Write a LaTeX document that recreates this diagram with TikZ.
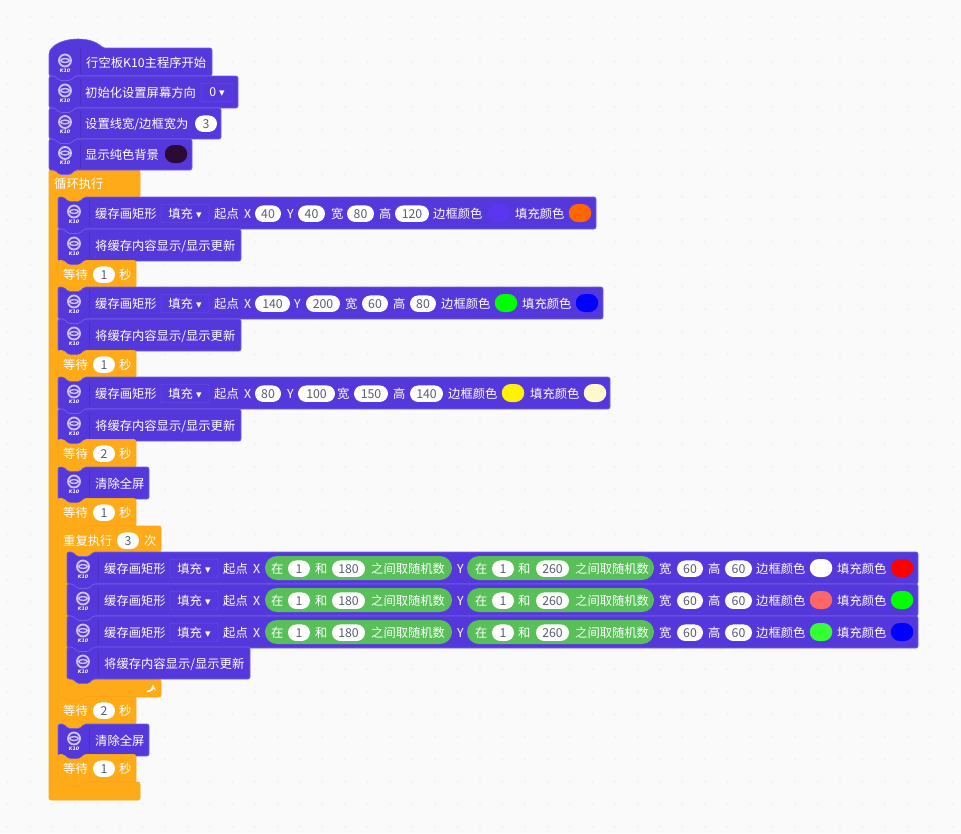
\documentclass[tikz,border=0pt]{standalone}
\usepackage{fontspec}
\setmainfont{Noto Sans CJK SC}
\newfontfamily\symfont{DejaVu Sans}
\definecolor{pagebg}{HTML}{FAFAFB}
\definecolor{griddot}{HTML}{F0F0F1}
\definecolor{kpurple}{HTML}{5538DC}
\definecolor{kedge}{HTML}{7460E2}
\definecolor{kring}{HTML}{CFC6F6}
\definecolor{ksep}{HTML}{4A2FC4}
\definecolor{korange}{HTML}{FFAB19}
\definecolor{kedgeo}{HTML}{F7A617}
\definecolor{kgreen}{HTML}{59C059}
\definecolor{pilltext}{HTML}{575E75}
\definecolor{bgdark}{HTML}{2B0A33}
\definecolor{borderviolet}{HTML}{5C35EE}
\definecolor{fillorange}{HTML}{FF6600}
\definecolor{paleyellow}{HTML}{FFF9CC}
\definecolor{salmon}{HTML}{FF6666}
\definecolor{limegreen}{HTML}{33FF33}
\tikzset{
  blocktext/.style={anchor=west,inner sep=0pt,yshift=-.8pt,text=white,text height=10.4pt,text depth=1.4pt,font=\fontsize{12.3}{14}\selectfont},
  pill/.style={fill=white,rounded corners=8.25pt,inner sep=0pt,yshift=-.7pt,minimum height=16.5pt,text=pilltext,font=\fontsize{12.3}{14}\selectfont},
  swatch/.style={rounded corners=9pt,inner sep=0pt,minimum height=18pt,minimum width=22.5pt},
  greenpill/.style={fill=kgreen,rounded corners=12pt,inner sep=0pt,minimum height=24pt},
  dropbox/.style={draw=kedge!70!kpurple,fill=kpurple,rounded corners=2pt,inner sep=0pt,yshift=-.5pt,minimum height=18.5pt,minimum width=48pt,text=white,font=\fontsize{12.3}{14}\selectfont},
  kblockstyle/.style={fill=kpurple,draw=kedge,line width=.6pt,rounded corners=2pt},
  oblockstyle/.style={fill=korange,draw=kedgeo,line width=.6pt,rounded corners=2pt},
  ktag/.style={inner sep=0pt,text=white,font=\symfont\fontsize{4.8}{5}\selectfont\bfseries\itshape},
}
% connector shape shared by all stack blocks
\newcommand{\stackpath}[4]{(#1,#2) -- (#1+6,#2) -- (#1+10,#2+4.5) -- (#1+22,#2+4.5) -- (#1+26,#2) -- (#1+#3,#2) -- (#1+#3,#2+#4) -- (#1+26,#2+#4) -- (#1+22,#2+#4+4.5) -- (#1+10,#2+#4+4.5) -- (#1+6,#2+#4) -- (#1,#2+#4) -- cycle}
% logo, tag and separator
\newcommand{\kicon}[2]{
  \draw[kring,line width=1.8pt] (#1+16,#2-1.5) circle (6pt);
  \draw[kring,line width=1.4pt] (#1+16,#2-1.5) ellipse (4.4pt and 1.9pt);
  \node[ktag] (k#1-#2) at (#1+16,#2+8.5) {K10};
  \draw[ksep,line width=.8pt] (#1+31.5,#2-13) -- (#1+31.5,#2+13);
}
\newcommand{\kblock}[4]{
  \draw[kblockstyle] \stackpath{#1}{#2}{#3}{#4};
  \kicon{#1}{#2+#4/2}
}
\newcommand{\oblock}[4]{\draw[oblockstyle] \stackpath{#1}{#2}{#3}{#4};}
\newcommand{\blocklabels}[2]{\foreach \lx/\lt in {#2} {\node[blocktext] (t\lx-#1) at (\lx,#1) {\lt};}}
\newcommand{\numpills}[2]{\foreach \pa/\pb/\pt in {#2} {\node[pill,minimum width={(\pb-\pa)*1pt}] (p\pa-#1) at ({(\pa+\pb)/2},#1) {\pt};}}
\newcommand{\swatches}[2]{\foreach \sx/\sc in {#2} {\node[swatch,fill=\sc] (s\sx-#1) at (\sx,#1) {};}}
\newcommand{\droptip}{\hspace{3pt}{\symfont\fontsize{11}{11}\selectfont ▾}}
\newcommand{\fillbox}[2]{\node[dropbox] (d#2) at (#1+24,#2) {填充\droptip};}
% rectangle block head
\newcommand{\recthead}[2]{
  \blocklabels{#2}{#1/缓存画矩形}
  \fillbox{#1+66}{#2}
  \blocklabels{#2}{#1+119/起点}
  \node[blocktext] (x#2) at (#1+149,#2) {X};
}
\newcommand{\waitrow}[2]{
  \oblock{58}{#1-13.5}{78}{27.5}
  \blocklabels{#1}{63/等待, 119/秒}
  \numpills{#1}{93/115/#2}
}
\newcommand{\updaterow}[2]{
  \kblock{#1}{#2-16}{183}{32}
  \node[blocktext] (u#2) at (#1+37,#2) {将缓存内容显示/显示更新};
}
\newcommand{\randrow}[3]{
  \kblock{67}{#1-16}{851}{32}
  \recthead{104}{#1}
  \node[greenpill,minimum width=187pt] (ga#1) at (358.5,#1) {};
  \node[greenpill,minimum width=187pt] (gb#1) at (560.5,#1) {};
  \blocklabels{#1}{271/在, 315/和, 371/之间取随机数, 457/Y, 475/在, 518/和, 575/之间取随机数, 659/宽, 708/高, 756/边框颜色, 837/填充颜色}
  \numpills{#1}{288/310/1, 332/365/180, 492/514/1, 536/569/260, 677/703/60, 725/752/60}
  \swatches{#1}{821/#2, 902/#3}
}
\begin{document}
\begin{tikzpicture}[x=1pt,y=-1pt]
  \useasboundingbox (0,0) rectangle (961,833);
  \fill[pagebg] (0,0) rectangle (961,833);
  \foreach \i in {0,...,42} \foreach \j in {0,...,36}
    \fill[griddot] (7.5+22.5*\i,16.7+22.5*\j) circle (1.1pt);

  % outer loop
  \draw[oblockstyle] (49,170) -- (140,170) -- (140,197) -- (84,197) -- (80,201.5) -- (68,201.5) -- (64,197) -- (58,197) -- (58,782) -- (140,782) -- (140,800) -- (49,800) -- cycle;
  \node[blocktext] (loop) at (54,183) {循环执行};

  % top of the program
  \draw[kblockstyle] (49,52) .. controls (58,37) and (90,35) .. (103,48) -- (212,48) -- (212,76) -- (75,76) -- (71,80.5) -- (59,80.5) -- (55,76) -- (49,76) -- cycle;
  \kicon{49}{62}
  \node[blocktext] (start) at (86,62) {行空板K10主程序开始};

  \kblock{49}{76}{189}{32}
  \node[blocktext] (orient) at (85,92) {初始化设置屏幕方向};
  \node[dropbox,minimum width=32pt] (orientval) at (217,92) {0\droptip};

  \kblock{49}{108}{172}{31}
  \node[blocktext] (linew) at (85,123) {设置线宽/边框宽为};
  \numpills{123}{195/217/3}

  \kblock{49}{139}{143}{31}
  \blocklabels{154}{85/显示纯色背景}
  \swatches{154}{176/bgdark}

  % first rectangle
  \kblock{58}{197}{538}{32}
  \recthead{95}{213}
  \blocklabels{213}{287/Y, 331/宽, 379/高, 433/边框颜色, 515/填充颜色}
  \numpills{213}{255/281/40, 298/325/40, 347/374/80, 395/429/120}
  \swatches{213}{499/borderviolet, 580/fillorange}
  \updaterow{58}{245}
  \waitrow{274}{1}

  % second rectangle
  \kblock{58}{287}{545}{32}
  \recthead{95}{303}
  \blocklabels{303}{294/Y, 345/宽, 393/高, 441/边框颜色, 522/填充颜色}
  \numpills{303}{255/290/140, 306/340/200, 362/388/60, 410/436/80}
  \swatches{303}{506/green, 587/blue}
  \updaterow{58}{335}
  \waitrow{364}{1}

  % third rectangle
  \kblock{58}{377}{552}{32}
  \recthead{95}{393}
  \blocklabels{393}{287/Y, 337/宽, 393/高, 448/边框颜色, 530/填充颜色}
  \numpills{393}{255/281/80, 298/335/100, 354/388/150, 410/443/140}
  \swatches{393}{513/yellow, 595/paleyellow}
  \updaterow{58}{425}
  \waitrow{453}{2}

  \kblock{58}{467}{91}{32}
  \blocklabels{483}{95/清除全屏}
  \waitrow{512}{1}

  % repeat 3 times
  \draw[oblockstyle] (58,526) -- (64,526) -- (68,530.5) -- (80,530.5) -- (84,526) -- (161,526) -- (161,552) -- (93,552) -- (89,556.5) -- (77,556.5) -- (73,552) -- (67,552) -- (67,679) -- (161,679) -- (161,697) -- (84,697) -- (80,701.5) -- (68,701.5) -- (64,697) -- (58,697) -- cycle;
  \blocklabels{540}{63/重复执行, 144/次}
  \numpills{540}{117/139/3}
  \draw[white,line width=1.6pt,->,>=stealth] (147,691.5) .. controls (151,691) and (153,689) .. (153,684.5);

  \randrow{568}{white}{red}
  \randrow{600}{salmon}{green}
  \randrow{632}{limegreen}{blue}
  \updaterow{67}{663}

  \waitrow{710}{2}
  \kblock{58}{724}{91}{32}
  \blocklabels{740}{95/清除全屏}
  \waitrow{768}{1}
\end{tikzpicture}
\end{document}
